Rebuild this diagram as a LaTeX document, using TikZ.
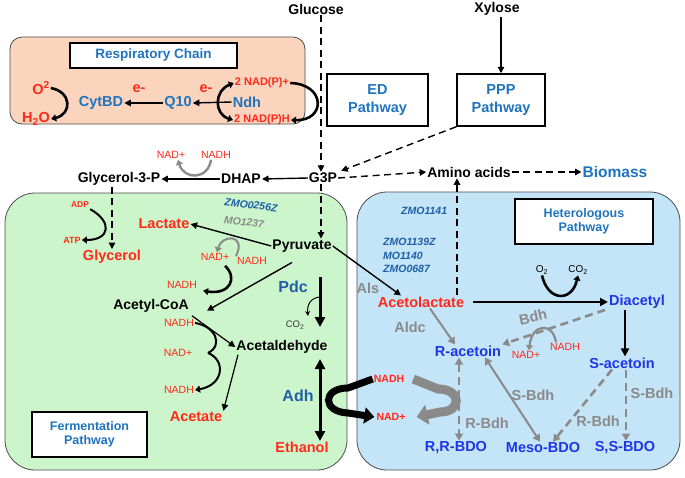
\documentclass[tikz,border=0pt]{standalone}
\usepackage{fontspec}
\setmainfont{Liberation Sans}
\usetikzlibrary{arrows.meta}
\newcommand{\myfs}[1]{\fontsize{#1}{#1}\selectfont}
\definecolor{cred}{HTML}{FF2A1A}
\definecolor{cblue}{HTML}{1F74BE}
\definecolor{dblue}{HTML}{1F5FA8}
\definecolor{bblue}{HTML}{1F36E8}
\definecolor{cgray}{HTML}{8A8A8A}
\definecolor{peach}{HTML}{FBD4BE}
\definecolor{lgreen}{HTML}{CDF5CB}
\definecolor{lblue}{HTML}{C4E4F7}
\begin{document}
\begin{tikzpicture}[x=1pt,y=-1pt,
  txt/.style={inner sep=1pt},
  bk/.style={txt, text=black, font=\myfs{14}\bfseries},
  rn/.style={txt, text=cred, font=\myfs{14.5}\bfseries},
  bn/.style={txt, text=bblue, font=\myfs{14.5}\bfseries},
  gy/.style={txt, text=cgray, font=\myfs{14.5}\bfseries},
  cb/.style={txt, text=cblue, font=\myfs{14.5}\bfseries},
  sm/.style={txt, text=cred, font=\myfs{10.5}},
  smb/.style={txt, text=cred, font=\myfs{10.5}\bfseries},
  zmo/.style={txt, text=dblue, font=\myfs{10.5}\bfseries\itshape},
  tbox/.style={draw, line width=1.5pt, fill=white, inner sep=0pt, align=center, text=cblue, font=\myfs{12.5}\bfseries},
  pbox/.style={tbox, font=\myfs{14.5}\bfseries},
  arr/.style={line width=1.4pt, -{Triangle[length=6.5pt,width=6.5pt]}},
  darr/.style={arr, dash pattern=on 7pt off 4.5pt},
  tarr/.style={line width=2pt, -{Triangle[length=8pt,width=8pt]}},
  carr/.style={line width=2.6pt, -{Triangle[length=5pt,width=7pt]}},
  garr/.style={cgray, line width=2.6pt, -{Triangle[length=7pt,width=8pt]}},
  gdarr/.style={garr, dash pattern=on 8pt off 5pt},
  gcarr/.style={cgray, line width=2.6pt, -{Triangle[length=5pt,width=7pt]}},
  bigarr/.style={line width=3pt, -{Triangle[length=10pt,width=10pt]}}
]
\useasboundingbox (0,0) rectangle (685,477);

% ---------------- background boxes
\draw[fill=peach, draw=black!70, line width=0.8pt, rounded corners=12pt] (10,37) rectangle (305,124);
\draw[fill=lgreen, draw=black!70, line width=0.8pt, rounded corners=30pt] (5,193) rectangle (347,470);
\draw[fill=lblue, draw=black!70, line width=0.8pt, rounded corners=30pt] (357,192) rectangle (680,470);

% ---------------- top part
\node[bk] (glc) at (316,9) {Glucose};
\node[bk] (xyl) at (497,9) {Xylose};
\node[pbox, minimum width=101pt, minimum height=52pt] (ed) at (377.5,100) {ED\\[3.5pt]Pathway};
\node[pbox, minimum width=88pt, minimum height=52pt] (ppp) at (501,100) {PPP\\[3.5pt]Pathway};
\node[bk] (g3p) at (323,178) {G3P};
\node[bk] (dhap) at (241,179) {DHAP};
\node[bk] (g3pp) at (119,179) {Glycerol-3-P};
\node[bk] (amino) at (469,172) {Amino acids};
\node[txt, text=cblue, font=\myfs{15.5}\bfseries] (bio) at (615,172) {Biomass};
\node[sm] (nadtop) at (171,155) {NAD+};
\node[sm] (nadhtop) at (216,155) {NADH};

\draw[arr] (ppp.north |- xyl.south) -- (ppp.north);
\draw[darr] ([xshift=-2pt]g3p.north |- glc.south) -- ([xshift=-2pt]g3p.north);
\draw[darr] (ppp.south west) -- ([xshift=3pt,yshift=1pt]g3p.north east);
\draw[darr] (g3p.east) -- (amino.west);
\draw[darr] (amino.east) -- (bio.west);
\draw[arr] (g3p.west) -- (dhap.east);
\draw[arr] (dhap.west) -- (g3pp.east);
\draw[gcarr, line width=2.4pt] ([xshift=-5pt]nadhtop.south) .. controls (208,180) and (184,180) .. ([xshift=7pt]nadtop.south);

% ---------------- respiratory chain
\node[tbox, font=\myfs{13.5}\bfseries, minimum width=167pt, minimum height=25pt] (rct) at (153.5,55.5) {Respiratory Chain};
\node[rn] (o2) at (41,88) {O\textsuperscript{2}};
\node[rn] (h2o) at (36,119) {H\textsubscript{2}O};
\node[cb] (cyt) at (101,103) {CytBD};
\node[cb] (q10) at (178,103) {Q10};
\node[cb] (ndh) at (247,102) {Ndh};
\node[rn] (e1) at (139,89) {e-};
\node[rn] (e2) at (206,89) {e-};
\node[smb, font=\myfs{11}\bfseries] (np1) at (262,83) {2 NAD(P)+};
\node[smb, font=\myfs{11}\bfseries] (np2) at (262,120) {2 NAD(P)H};
\draw[arr] (q10.west) -- (cyt.east);
\draw[arr] (ndh.west) -- (q10.east);
\draw[carr] (o2.east) .. controls (72,92) and (72,114) .. (h2o.east);
\draw[carr, {Triangle[length=5pt,width=7pt]}-{Triangle[length=5pt,width=7pt]}] (np2.west) .. controls (214,114) and (214,91) .. (np1.west);
\draw[carr] (np1.east) .. controls (326,84) and (326,121) .. (np2.east);

% ---------------- fermentation pathway
\node[txt, text=cred, font=\myfs{8.5}\bfseries] (adp) at (80,205) {ADP};
\node[txt, text=cred, font=\myfs{9}\bfseries] (atp) at (72,240) {ATP};
\node[rn] (glyc) at (112,257) {Glycerol};
\node[rn] (lac) at (164,224) {Lactate};
\node[zmo, rotate=-7, inner sep=0pt] (z256) at (251,205) {ZMO0256Z};
\node[zmo, text=cgray, rotate=-7, inner sep=0pt] (m1237) at (244,222) {MO1237};
\node[bk] (pyr) at (302,246) {Pyruvate};
\node[sm] (nada) at (215,257) {NAD+};
\node[sm] (nadha) at (252,261) {NADH};
\node[sm] (nadhb) at (182,285) {NADH};
\node[bk] (acoa) at (151,306) {Acetyl-CoA};
\node[txt, text=dblue, font=\myfs{16}\bfseries] (pdc) at (293,287) {Pdc};
\node[txt, text=black!80, font=\myfs{9.5}] (co2a) at (295,325) {CO\textsubscript{2}};
\node[bk] (acald) at (282,347) {Acetaldehyde};
\node[sm] (nadhc) at (179,323) {NADH};
\node[sm] (nadc) at (178,353) {NAD+};
\node[sm] (nadhd) at (179,390) {NADH};
\node[rn] (acet) at (196,417) {Acetate};
\node[tbox, minimum width=115pt, minimum height=45pt] (ferm) at (89.5,434.5) {Fermentation\\[1.5pt]Pathway};
\node[txt, text=dblue, font=\myfs{16}\bfseries] (adh) at (298,396) {Adh};
\node[rn] (etoh) at (302,447) {Ethanol};

\coordinate (pdcA) at (320,277);
\coordinate (pdcB) at (320,327);
\coordinate (adhA) at (320,359);
\coordinate (adhB) at (320,441);
\draw[darr] (g3pp.south -| glyc.north) -- (glyc.north);
\draw[carr, line width=2pt] (adp.south east) .. controls (113,222) and (110,240) .. (atp.east);
\draw[darr] ([xshift=-2pt]g3p.south) -- ([xshift=-2pt]g3p.south |- pyr.north);
\draw[arr] (pyr.west) -- (lac.east);
\draw[gcarr, line width=2pt] (nadha.north west) .. controls (247,234) and (222,234) .. ([xshift=2pt]nada.north);
\draw[arr] ([xshift=-10pt,yshift=-9pt]pyr.south) -- ([xshift=56pt,yshift=3pt]acoa.south);
\draw[carr] ([xshift=10pt,yshift=-4pt]nada.south) .. controls (238,278) and (230,295) .. ([xshift=5pt,yshift=-1pt]nadhb.south east);
\draw[bigarr] (pdcA) -- (pdcB);
\draw[line width=1pt, -{Stealth[length=5pt,width=5pt]}] (320,297) .. controls (310,298) and (307,305) .. (308,316);
\draw[arr, line width=1.2pt] ([xshift=2pt,yshift=-2pt]acoa.south east) -- (acald.west);
\draw[arr, line width=1.2pt] ([xshift=-44pt]acald.south) -- (acet.north east);
\draw[line width=2pt] (nadhc.east) .. controls (215,326) and (224,345) .. (208,353);
\draw[carr, line width=2pt] (208,353) .. controls (226,360) and (224,385) .. (nadhd.east);
\draw[bigarr, {Triangle[length=10pt,width=10pt]}-{Triangle[length=10pt,width=10pt]}] (adhA) -- (adhB);

% ---------------- heterologous pathway
\node[zmo, anchor=west] (z1141) at (400,211) {ZMO1141};
\node[zmo, anchor=west] (z1139) at (382,242) {ZMO1139Z};
\node[zmo, anchor=west] (z1140) at (382,256) {MO1140};
\node[zmo, anchor=west] (z0687) at (382,269) {ZMO0687};
\node[tbox, minimum width=138pt, minimum height=45pt] (het) at (584,221.5) {Heterologous\\[2pt]Pathway};
\node[rn] (alac) at (421,302) {Acetolactate};
\node[gy] (als) at (368,288) {Als};
\node[bn] (diac) at (637,302) {Diacetyl};
\node[txt, font=\myfs{10}] (o2b) at (542,270) {O\textsubscript{2}};
\node[txt, font=\myfs{10}] (co2b) at (578,270) {CO\textsubscript{2}};
\node[gy, rotate=12] (bdh) at (533,317) {Bdh};
\node[sm] (nade) at (526,355) {NAD+};
\node[sm] (nadhe) at (565,347) {NADH};
\node[bn] (racet) at (468,351) {R-acetoin};
\node[bn] (sacet) at (622,363) {S-acetoin};
\node[gy] (aldc) at (410,327) {Aldc};
\node[gy] (rbdh1) at (487,423) {R-Bdh};
\node[bn] (rrbdo) at (456,448) {R,R-BDO};
\node[bn] (meso) at (543,448) {Meso-BDO};
\node[bn] (ssbdo) at (625,448) {S,S-BDO};
\node[gy] (sbdh1) at (533,395) {S-Bdh};
\node[gy] (rbdh2) at (598,421) {R-Bdh};
\node[gy] (sbdh2) at (652,393) {S-Bdh};
\node[smb] (nadhf) at (389,379) {NADH};
\node[smb] (nadf) at (391,417) {NAD+};

\draw[arr] (pyr.east) -- ([xshift=-20pt]alac.north);
\draw[darr] ([xshift=36pt]alac.north) -- ([xshift=-12pt]amino.south);
\draw[tarr] ([xshift=8pt]alac.east) -- (diac.west);
\draw[carr] (o2b.south) .. controls (548,302) and (572,302) .. (co2b.south);
\draw[tarr] ([xshift=-12pt]diac.south) -- ([xshift=3pt]sacet.north);
\draw[gdarr] ([xshift=-32pt]diac.south) -- (racet.north east);
\draw[gcarr, line width=2.2pt] ([xshift=-9pt]nadhe.north) .. controls (553,322) and (532,323) .. ([xshift=3pt]nade.north);
\draw[garr, line width=2pt] ([xshift=9pt]alac.south) -- ([xshift=-13pt]racet.north);
\draw[gdarr, {Triangle[length=7pt,width=8pt]}-{Triangle[length=7pt,width=8pt]}] ([xshift=-9pt]racet.south) -- ([xshift=3pt]rrbdo.north);
\draw[garr, line width=2pt, {Triangle[length=7pt,width=8pt]}-{Triangle[length=7pt,width=8pt]}] ([xshift=17pt]racet.south) -- ([xshift=-3pt]meso.north);
\draw[gdarr] ([xshift=-10pt]sacet.south) -- ([xshift=10pt]meso.north);
\draw[gdarr] ([xshift=4pt]sacet.south) -- ([xshift=1pt]ssbdo.north);

% big cofactor arrows
\draw[line width=7pt, -{Triangle[length=10pt,width=16pt]}] (nadhf.west) -- (348,388) .. controls (322,388) and (322,412) .. (348,413) -- ([xshift=-1pt]nadf.west);
\draw[cgray, line width=9pt, -{Triangle[length=11pt,width=20pt]}] ([xshift=8pt]nadhf.east) -- (438,389) .. controls (462,389) and (462,412) .. (440,412) -- ([xshift=10pt]nadf.east);
\end{tikzpicture}
\end{document}
